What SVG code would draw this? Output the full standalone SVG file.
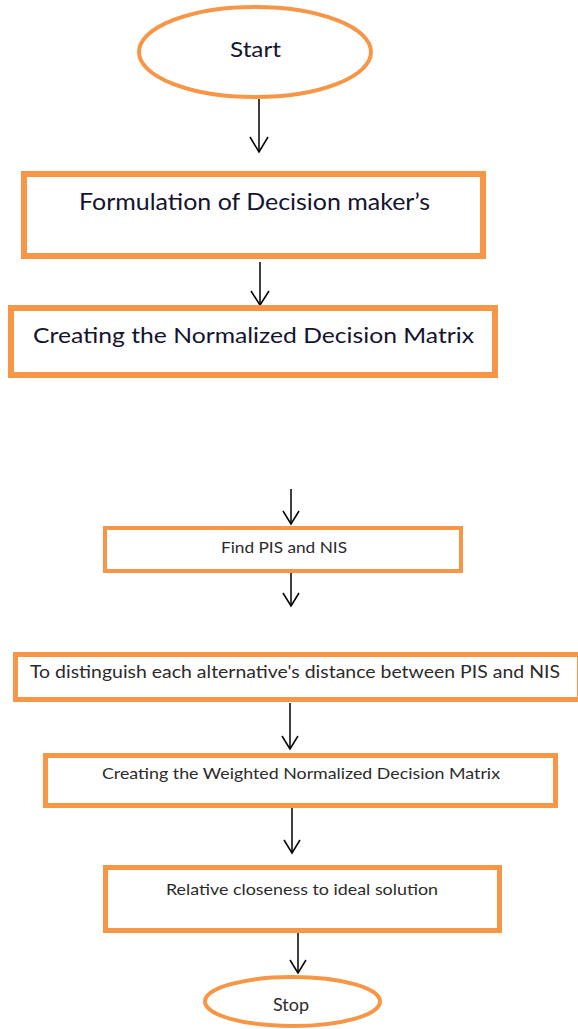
<svg xmlns="http://www.w3.org/2000/svg" width="578" height="1029" viewBox="0 0 578 1029">
  <defs>
    <style>
      .term { fill: #ffffff; stroke: #F79646; stroke-width: 4; }
      .step { fill: #ffffff; stroke: #F79646; stroke-width: 5; }
      .step-thick { fill: #ffffff; stroke: #F79646; stroke-width: 6; }
      .label { font-family: Lato, "Open Sans", "Liberation Sans", sans-serif; text-anchor: middle; fill: #141430; }
      .label-sm { font-family: Lato, "Open Sans", "Liberation Sans", sans-serif; text-anchor: middle; fill: #2b2b2b; }
      .conn { stroke: #000000; stroke-width: 1.5; fill: none; }
      .head { stroke: #000000; stroke-width: 1.5; fill: none; stroke-linejoin: miter; }
    </style>
  </defs>
  <rect width="578" height="1029" fill="#ffffff"/>

  <!-- connectors -->
  <g id="connectors">
    <line class="conn" x1="259" y1="99" x2="259" y2="152"/>
    <polyline class="head" points="250,137 259,152 268,137"/>
    <line class="conn" x1="260" y1="262" x2="260" y2="305"/>
    <polyline class="head" points="251,291 260,305 269,291"/>
    <line class="conn" x1="291" y1="489" x2="291" y2="524"/>
    <polyline class="head" points="283,511 291,524 299,511"/>
    <line class="conn" x1="291" y1="573" x2="291" y2="606"/>
    <polyline class="head" points="283,593 291,606 299,593"/>
    <line class="conn" x1="290" y1="703" x2="290" y2="749"/>
    <polyline class="head" points="282,736 290,749 298,736"/>
    <line class="conn" x1="292" y1="808" x2="292" y2="853"/>
    <polyline class="head" points="284,840 292,853 300,840"/>
    <line class="conn" x1="298" y1="933" x2="298" y2="973"/>
    <polyline class="head" points="290,960 298,973 306,960"/>
  </g>

  <g id="start">
    <ellipse class="term" cx="255" cy="52" rx="116" ry="45"/>
    <text class="label" x="255.5" y="57" font-size="21" textLength="51" lengthAdjust="spacingAndGlyphs">Start</text>
  </g>

  <g id="formulation">
    <rect class="step-thick" x="24" y="174" width="459" height="82"/>
    <text class="label" x="254.5" y="210" font-size="23" textLength="351" lengthAdjust="spacingAndGlyphs">Formulation of Decision maker’s</text>
  </g>

  <g id="normalized">
    <rect class="step-thick" x="11" y="308" width="484" height="67"/>
    <text class="label" x="253.5" y="343" font-size="22" textLength="441" lengthAdjust="spacingAndGlyphs">Creating the Normalized Decision Matrix</text>
  </g>

  <g id="pis-nis">
    <rect class="term" x="105" y="528" width="356" height="43" stroke-width="3.5"/>
    <text class="label-sm" x="284" y="553" font-size="16" textLength="126" lengthAdjust="spacingAndGlyphs">Find PIS and NIS</text>
  </g>

  <g id="distance">
    <rect class="step" x="15.5" y="654.5" width="564" height="45"/>
    <text class="label-sm" x="295" y="678" font-size="18" textLength="530" lengthAdjust="spacingAndGlyphs">To distinguish each alternative's distance between PIS and NIS</text>
  </g>

  <g id="weighted">
    <rect class="step" x="45.5" y="755.5" width="510" height="50"/>
    <text class="label-sm" x="301" y="779" font-size="15" textLength="398" lengthAdjust="spacingAndGlyphs">Creating the Weighted Normalized Decision Matrix</text>
  </g>

  <g id="closeness">
    <rect class="step" x="105.5" y="867.5" width="394" height="63"/>
    <text class="label-sm" x="302" y="895" font-size="16" textLength="272" lengthAdjust="spacingAndGlyphs">Relative closeness to ideal solution</text>
  </g>

  <g id="stop">
    <ellipse class="term" cx="292.5" cy="1001.5" rx="87.5" ry="24.5"/>
    <text class="label-sm" x="291" y="1011" font-size="17" textLength="36" lengthAdjust="spacingAndGlyphs">Stop</text>
  </g>
</svg>
